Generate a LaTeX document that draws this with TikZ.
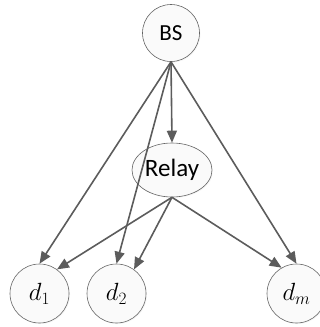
\documentclass[tikz,border=0pt]{standalone}
\usepackage{fontspec}
\setmainfont{Carlito}
\usetikzlibrary{arrows.meta,shapes.geometric,shadows}
\definecolor{edgecol}{RGB}{92,92,92}
\definecolor{nodeline}{RGB}{100,100,100}
\definecolor{nodefill}{RGB}{250,250,250}
\begin{document}
\begin{tikzpicture}[x=1pt,y=-1pt,
  dev/.style={circle,draw=nodeline,line width=0.6pt,fill=nodefill,minimum size=59pt,inner sep=0pt,
    drop shadow={opacity=0.08,shadow xshift=1pt,shadow yshift=-1pt}},
  relaybox/.style={ellipse,draw=nodeline,line width=0.6pt,fill=nodefill,minimum width=80pt,minimum height=54pt,inner sep=0pt,
    drop shadow={opacity=0.08,shadow xshift=1pt,shadow yshift=-1pt}},
  link/.style={draw=edgecol,line width=1.6pt,-{Triangle[length=12pt,width=10pt]}}
]
\useasboundingbox (0,0) rectangle (320,327);
\node[dev,minimum size=57pt] (bs) at (171,33) {\fontsize{23}{27}\selectfont BS};
\node[relaybox] (relay) at (172,170) {\fontsize{25}{29}\selectfont Relay};
\node[dev] (d1) at (39.5,293.5) {\fontsize{26}{30}\selectfont $d_1$};
\node[dev] (d2) at (116.5,293.5) {\fontsize{26}{30}\selectfont $d_2$};
\node[dev] (dm) at (296.5,293.5) {\fontsize{26}{30}\selectfont $d_m$};
\draw[link] (bs.south) -- (relay.north);
\draw[link] (bs.south) -- (d1.north);
\draw[link] (bs.south) -- (d2.north);
\draw[link] (bs.south) -- (dm.north);
\draw[link] (relay.south) -- (d1.54);
\draw[link] (relay.south) -- (d2.54);
\draw[link] (relay.south) -- (dm.120);
\end{tikzpicture}
\end{document}
